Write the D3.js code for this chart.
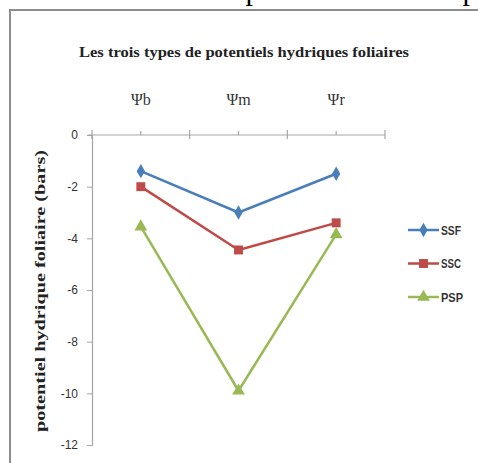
<!DOCTYPE html>
<html>
<head>
<meta charset="utf-8">
<script src="https://cdn.jsdelivr.net/npm/d3@7"></script>
<style>
  html, body { margin: 0; padding: 0; background: #fff; }
  svg { display: block; }
</style>
</head>
<body>
<svg id="chart" width="478" height="463"></svg>
<script>
// Leaf water potential by type (bars)
const categories = ["\u03A8b", "\u03A8m", "\u03A8r"];
const seriesNames = ["SSF", "SSC", "PSP"];
const ssfValues = [-1.4, -3.0, -1.5];
const sscValues = [-2.0, -4.45, -3.4];
const pspValues = [-3.55, -9.9, -3.85];
const yTicks = [0, -2, -4, -6, -8, -10, -12];

const seriesValues = [ssfValues, sscValues, pspValues];
const colors = ["#4a7ebb", "#be4b48", "#98b954"];
const symbols = [d3.symbolDiamond, d3.symbolSquare, d3.symbolTriangle];
const symbolSizes = [60, 80, 70];

const svg = d3.select("#chart");

// Fragment of the document text above the figure
svg.append("g")
  .attr("font-family", "Liberation Serif, Times New Roman, serif")
  .attr("font-size", 30)
  .attr("fill", "#000")
  .selectAll("text").data([253, 470]).join("text")
  .attr("x", d => d).attr("y", 0).attr("text-anchor", "middle").text("p");

// Chart frame
svg.append("rect")
  .attr("x", 10).attr("y", 10).attr("width", 478).attr("height", 470)
  .attr("fill", "#fff").attr("stroke", "#8c8c8c").attr("stroke-width", 2);

// Title
svg.append("text")
  .attr("x", 244).attr("y", 57).attr("text-anchor", "middle")
  .attr("font-family", "Liberation Serif, Times New Roman, serif")
  .attr("font-weight", "bold").attr("font-size", 14.5)
  .attr("fill", "#222")
  .attr("textLength", 330).attr("lengthAdjust", "spacingAndGlyphs")
  .text("Les trois types de potentiels hydriques foliaires");

const x = d3.scalePoint().domain(categories).range([92, 385]).padding(0.5);
const y = d3.scaleLinear().domain([-12, 0]).range([445, 135]);

// Vertical value axis
const yAxis = svg.append("g").attr("transform", "translate(92,0)")
  .call(d3.axisLeft(y).tickValues(yTicks).tickSize(5).tickPadding(9).tickFormat(d3.format("d")));
yAxis.select(".domain").attr("stroke", "#a6a6a6").attr("stroke-width", 1.2);
yAxis.selectAll(".tick line").attr("stroke", "#a6a6a6");
yAxis.selectAll(".tick text")
  .attr("font-family", "Liberation Sans Narrow, Liberation Sans, Arial, sans-serif")
  .attr("font-size", 12).attr("fill", "#333")
  .text(d => d === 0 ? "0" : "-" + Math.abs(d));

// Horizontal category axis at the top (value 0)
const xAxisG = svg.append("g").attr("stroke", "#a6a6a6").attr("stroke-width", 1.2);
xAxisG.append("line").attr("x1", 88).attr("x2", 385).attr("y1", y(0)).attr("y2", y(0));
const step = x.step();
const bounds = d3.range(categories.length + 1).map(i => x(categories[0]) - step / 2 + i * step);
xAxisG.selectAll(".major").data(bounds).join("line")
  .attr("x1", d => d).attr("x2", d => d).attr("y1", y(0) - 5).attr("y2", y(0) + 4);
xAxisG.selectAll(".minor").data(categories).join("line")
  .attr("x1", d => x(d)).attr("x2", d => x(d)).attr("y1", y(0) - 4).attr("y2", y(0));

// Category labels
svg.append("g").selectAll("text").data(categories).join("text")
  .attr("x", d => x(d)).attr("y", 105).attr("text-anchor", "middle")
  .attr("font-family", "Liberation Serif, Times New Roman, serif")
  .attr("font-size", 16).attr("fill", "#333")
  .text(d => d);

// Value axis title
svg.append("text")
  .attr("transform", "translate(45,291) rotate(-90)")
  .attr("text-anchor", "middle")
  .attr("font-family", "Liberation Serif, Times New Roman, serif")
  .attr("font-weight", "bold").attr("font-size", 14)
  .attr("fill", "#222")
  .attr("textLength", 282).attr("lengthAdjust", "spacingAndGlyphs")
  .text("potentiel hydrique foliaire (bars)");

// Series lines and markers
const line = d3.line().x((d, i) => x(categories[i])).y(d => y(d));
seriesValues.forEach((vals, s) => {
  const g = svg.append("g");
  g.append("path").datum(vals)
    .attr("d", line).attr("fill", "none")
    .attr("stroke", colors[s]).attr("stroke-width", 2.5)
    .attr("stroke-linejoin", "round");
  g.selectAll("path.m").data(vals).join("path").attr("class", "m")
    .attr("transform", (d, i) => `translate(${x(categories[i])},${y(d)})`)
    .attr("d", d3.symbol(symbols[s], symbolSizes[s]))
    .attr("fill", colors[s]);
});

// Legend
const legend = svg.append("g");
const legendY = d3.scalePoint().domain(seriesNames).range([230, 297]);
seriesNames.forEach((name, s) => {
  const ly = legendY(name);
  legend.append("line").attr("x1", 408).attr("x2", 439).attr("y1", ly).attr("y2", ly)
    .attr("stroke", colors[s]).attr("stroke-width", 2.5);
  legend.append("path").attr("transform", `translate(423.5,${ly})`)
    .attr("d", d3.symbol(symbols[s], symbolSizes[s])).attr("fill", colors[s]);
  legend.append("text").attr("x", 441).attr("y", ly + 4.5)
    .attr("font-family", "Liberation Sans Narrow, Liberation Sans, Arial, sans-serif")
    .attr("font-weight", "bold").attr("font-size", 12.5).attr("fill", "#333")
    .attr("textLength", name === "PSP" ? 22 : 20).attr("lengthAdjust", "spacingAndGlyphs")
    .text(name);
});
</script>
</body>
</html>
